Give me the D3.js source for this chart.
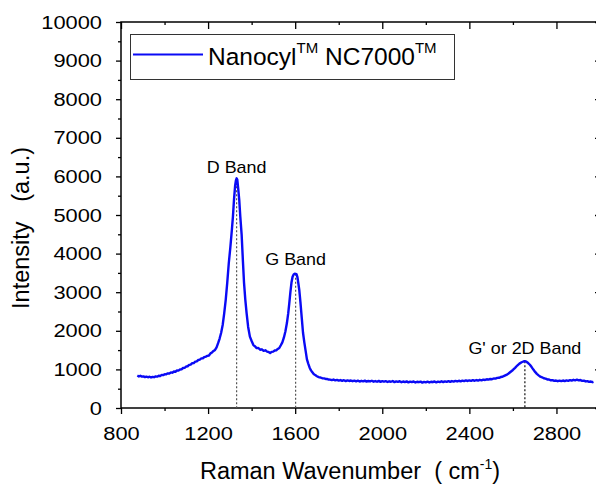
<!DOCTYPE html>
<html>
<head>
<meta charset="utf-8">
<script src="https://cdn.jsdelivr.net/npm/d3@7"></script>
<style>
  html, body { margin: 0; padding: 0; background: #fff; }
  svg { display: block; font-family: "Liberation Sans", Arial, sans-serif; }
  text { white-space: pre; }
</style>
</head>
<body>
<svg id="chart" width="596" height="486"></svg>
<script>
// Raman spectrum of Nanocyl NC7000 multi-walled carbon nanotubes
// [Raman shift (cm-1), intensity (a.u.)]
const spectrum = [
  [875, 840], [882, 818], [889, 834], [896, 812], [903, 820], [910, 800], [917, 814], [924, 796],
  [931, 810], [938, 790], [945, 806], [952, 798], [959, 818], [966, 812], [973, 836], [980, 830],
  [987, 858], [994, 852], [1001, 876], [1008, 872], [1015, 898], [1022, 894], [1029, 920], [1036, 915],
  [1043, 944], [1050, 940], [1057, 972], [1064, 968], [1071, 998], [1078, 1000], [1085, 1036], [1092, 1040],
  [1099, 1074], [1106, 1082], [1113, 1116], [1120, 1124], [1127, 1160], [1134, 1165], [1141, 1200], [1148, 1210],
  [1155, 1244], [1162, 1252], [1169, 1284], [1176, 1290], [1183, 1320], [1190, 1330], [1197, 1352], [1204, 1360],
  [1211, 1415], [1218, 1440], [1225, 1478], [1232, 1505], [1239, 1570], [1246, 1680], [1253, 1800], [1260, 1950],
  [1267, 2150], [1274, 2450], [1281, 2800], [1288, 3250], [1295, 3750], [1302, 4150], [1309, 4600], [1314, 4950],
  [1319, 5400], [1324, 5750], [1328, 5900], [1331, 5950], [1334, 5920], [1338, 5700], [1343, 5400], [1348, 4950],
  [1354, 4500], [1360, 3800], [1365, 3250], [1371, 2800], [1377, 2450], [1384, 2100], [1392, 1850], [1400, 1735],
  [1408, 1630], [1415, 1600], [1423, 1550], [1431, 1555], [1439, 1510], [1447, 1520], [1455, 1480], [1463, 1495],
  [1471, 1460], [1478, 1450], [1485, 1425], [1492, 1455], [1499, 1460], [1506, 1490], [1513, 1495], [1520, 1530],
  [1527, 1555], [1534, 1625], [1541, 1700], [1548, 1820], [1555, 1980], [1562, 2200], [1568, 2450], [1573, 2720],
  [1578, 3000], [1583, 3250], [1588, 3400], [1593, 3460], [1598, 3480], [1602, 3475], [1606, 3470], [1610, 3400],
  [1614, 3250], [1619, 3050], [1624, 2750], [1630, 2350], [1636, 1950], [1642, 1700], [1648, 1480], [1654, 1260],
  [1660, 1150], [1666, 1050], [1672, 980], [1678, 930], [1685, 880], [1692, 852], [1700, 822], [1708, 800],
  [1716, 790], [1724, 772], [1732, 768], [1740, 752], [1748, 750], [1754, 738],
  [1760, 735], [1768, 722], [1776, 738], [1784, 716], [1792, 728], [1800, 708], [1808, 724], [1816, 702],
  [1824, 719], [1832, 698], [1840, 716], [1848, 700], [1856, 712], [1864, 694], [1872, 710], [1880, 690],
  [1888, 708], [1896, 686], [1904, 704], [1912, 692], [1920, 710], [1928, 684], [1936, 700], [1944, 688],
  [1952, 706], [1960, 682], [1968, 698], [1976, 680], [1984, 702], [1992, 678], [2000, 696], [2008, 682],
  [2016, 694], [2024, 674], [2032, 692], [2040, 680], [2048, 698], [2056, 670], [2064, 690], [2072, 676],
  [2080, 694], [2088, 668], [2096, 686], [2104, 672], [2112, 690], [2120, 664], [2128, 684], [2136, 670],
  [2144, 688], [2152, 662], [2160, 680], [2168, 668], [2176, 684], [2184, 658], [2192, 678], [2200, 664],
  [2208, 682], [2216, 660], [2224, 680], [2232, 668], [2240, 688], [2248, 664], [2256, 684], [2264, 672],
  [2272, 692], [2280, 670], [2288, 690], [2296, 678], [2304, 696], [2312, 676], [2320, 698], [2328, 684],
  [2336, 702], [2344, 688], [2352, 706], [2360, 690], [2368, 710], [2376, 696], [2384, 714], [2392, 700],
  [2400, 716], [2408, 704], [2416, 722], [2424, 706], [2432, 724], [2440, 712], [2448, 730], [2456, 718],
  [2464, 736], [2472, 726], [2480, 744], [2488, 734], [2496, 752], [2504, 746], [2512, 764], [2520, 760],
  [2528, 780], [2536, 782], [2544, 802], [2552, 810], [2560, 832], [2570, 858], [2580, 895], [2590, 940],
  [2600, 985], [2610, 1040], [2620, 1100], [2630, 1150], [2640, 1185], [2648, 1205], [2655, 1212], [2662, 1200],
  [2670, 1165], [2678, 1120], [2686, 1060], [2694, 995], [2702, 935], [2710, 885], [2718, 845], [2726, 812],
  [2734, 795], [2742, 770], [2750, 762], [2758, 740], [2766, 738], [2774, 718], [2782, 722], [2790, 702],
  [2798, 712], [2806, 694], [2814, 710], [2822, 696], [2830, 712], [2838, 698], [2846, 716], [2854, 704],
  [2862, 722], [2870, 712], [2878, 730], [2886, 718], [2894, 734], [2902, 716], [2910, 726], [2918, 702],
  [2926, 710], [2934, 688], [2942, 696], [2950, 676], [2958, 686], [2966, 668], [2970, 676]
];

// Band annotations: label, position of the band maximum and its intensity
const bandLabels = ["D Band", "G Band", "G' or 2D Band"];
const bandPositions = [1331, 1602, 2655];
const bandHeights = [5950, 3475, 1212];

const xMajorTicks = [800, 1200, 1600, 2000, 2400, 2800];
const xMinorTicks = [1000, 1400, 1800, 2200, 2600, 3000];
const yMajorTicks = [0, 1000, 2000, 3000, 4000, 5000, 6000, 7000, 8000, 9000, 10000];
const yMinorTicks = [500, 1500, 2500, 3500, 4500, 5500, 6500, 7500, 8500, 9500];

const seriesName = "Nanocyl";
const seriesName2 = "NC7000";

const svg = d3.select("#chart");
const plotLeft = 121, plotTop = 22, plotRight = 600, plotBottom = 408;

const x = d3.scaleLinear().domain([800, 3000]).range([plotLeft, plotRight]);
const y = d3.scaleLinear().domain([0, 10000]).range([plotBottom, plotTop]);

const TX = 1.15; // horizontal widening of tick label glyphs

function styleAxis(g) {
  g.select(".domain").remove();
  g.selectAll("line").attr("stroke", "#000").attr("stroke-width", 1.3);
}

// minor ticks (no labels)
svg.append("g").attr("transform", `translate(0,${plotBottom})`)
  .call(d3.axisBottom(x).tickValues(xMinorTicks).tickSize(3).tickFormat(""))
  .call(styleAxis);
svg.append("g").attr("transform", `translate(0,${plotTop})`)
  .call(d3.axisBottom(x).tickValues(xMinorTicks).tickSize(3).tickFormat(""))
  .call(styleAxis);
svg.append("g").attr("transform", `translate(${plotLeft},0)`)
  .call(d3.axisLeft(y).tickValues(yMinorTicks).tickSize(3).tickFormat(""))
  .call(styleAxis);
svg.append("g").attr("transform", `translate(${plotRight},0)`)
  .call(d3.axisLeft(y).tickValues(yMinorTicks).tickSize(3).tickFormat(""))
  .call(styleAxis);

// major ticks: bottom/left outward, top/right inward
const xAxis = svg.append("g").attr("transform", `translate(0,${plotBottom})`)
  .call(d3.axisBottom(x).tickValues(xMajorTicks).tickSize(6).tickPadding(13).tickFormat(d3.format("d")))
  .call(styleAxis);
svg.append("g").attr("transform", `translate(0,${plotTop})`)
  .call(d3.axisBottom(x).tickValues(xMajorTicks).tickSize(7).tickFormat(""))
  .call(styleAxis);
const yAxis = svg.append("g").attr("transform", `translate(${plotLeft},0)`)
  .call(d3.axisLeft(y).tickValues(yMajorTicks).tickSize(5).tickPadding(14).tickFormat(d3.format("d")))
  .call(styleAxis);
svg.append("g").attr("transform", `translate(${plotRight},0)`)
  .call(d3.axisLeft(y).tickValues(yMajorTicks).tickSize(5).tickFormat(""))
  .call(styleAxis);

xAxis.selectAll("text")
  .attr("font-family", "Liberation Sans, Arial, sans-serif")
  .attr("font-size", 19).attr("fill", "#000")
  .attr("transform", `scale(${TX},1)`);
yAxis.selectAll("text")
  .attr("font-family", "Liberation Sans, Arial, sans-serif")
  .attr("font-size", 19).attr("fill", "#000")
  .attr("x", -19 / TX)
  .attr("transform", `scale(${TX},1)`);

// frame
svg.append("rect")
  .attr("x", plotLeft).attr("y", plotTop)
  .attr("width", plotRight - plotLeft).attr("height", plotBottom - plotTop)
  .attr("fill", "none").attr("stroke", "#000").attr("stroke-width", 1.5);

// dotted guides from each band maximum down to the axis
const guideColors = ["#555", "#555", "#111"];
svg.append("g").selectAll("line").data(bandPositions).join("line")
  .attr("x1", d => x(d)).attr("x2", d => x(d))
  .attr("y1", (d, i) => y(bandHeights[i]))
  .attr("y2", plotBottom)
  .attr("stroke", (d, i) => guideColors[i])
  .attr("stroke-width", 1.2)
  .attr("stroke-dasharray", "2,2");

// spectrum
svg.append("path")
  .datum(spectrum)
  .attr("fill", "none")
  .attr("stroke", "#0a0af5")
  .attr("stroke-width", 2.4)
  .attr("stroke-linejoin", "round")
  .attr("d", d3.line().x(d => x(d[0])).y(d => y(d[1])));

// band labels
const labelGap = [5, 9, 7];
svg.append("g").selectAll("text").data(bandLabels).join("text")
  .attr("transform", (d, i) => `translate(${x(bandPositions[i])},${y(bandHeights[i]) - labelGap[i]}) scale(1.12,1)`)
  .attr("text-anchor", "middle")
  .attr("font-size", 16)
  .attr("fill", "#000")
  .text(d => d);

// legend
const legend = svg.append("g");
legend.append("rect")
  .attr("x", 130.5).attr("y", 34.5).attr("width", 324).attr("height", 45)
  .attr("fill", "#fff").attr("stroke", "#333").attr("stroke-width", 1);
legend.append("line")
  .attr("x1", 133).attr("x2", 203).attr("y1", 54.5).attr("y2", 54.5)
  .attr("stroke", "#0a0af5").attr("stroke-width", 2);
const lt = legend.append("text")
  .attr("x", 208).attr("y", 65)
  .attr("font-size", 24.5).attr("fill", "#000");
lt.append("tspan").text(seriesName);
lt.append("tspan").attr("font-size", 15).attr("dy", -12).text("TM");
lt.append("tspan").attr("dy", 12).text(" " + seriesName2);
lt.append("tspan").attr("font-size", 15).attr("dy", -12).text("TM");

// axis titles
const xt = svg.append("text")
  .attr("x", 350).attr("y", 479)
  .attr("text-anchor", "middle")
  .attr("font-size", 23.5).attr("fill", "#000");
xt.append("tspan").text("Raman Wavenumber  ( cm");
xt.append("tspan").attr("font-size", 14).attr("dy", -10).text("-1");
xt.append("tspan").attr("dy", 10).text(")");

svg.append("text")
  .attr("transform", "translate(29,228) rotate(-90)")
  .attr("text-anchor", "middle")
  .attr("font-size", 23.5)
  .attr("fill", "#000")
  .text("Intensity   (a.u.)");
</script>
</body>
</html>
